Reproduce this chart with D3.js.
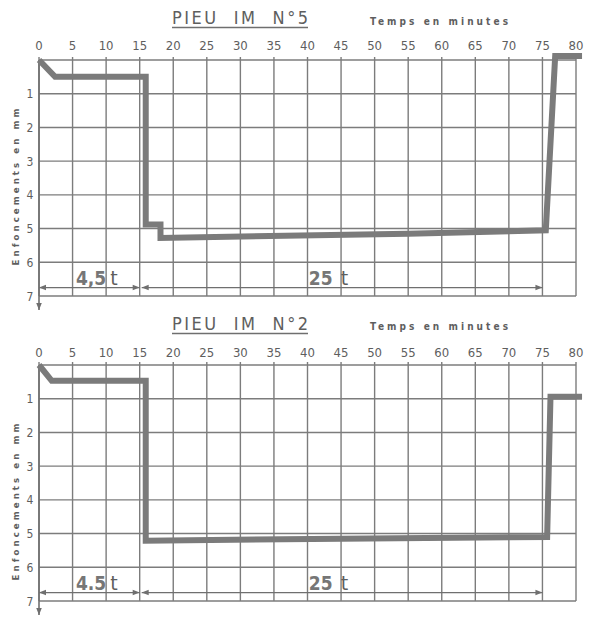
<!DOCTYPE html>
<html><head><meta charset="utf-8">
<script src="https://cdn.jsdelivr.net/npm/d3@7"></script>
<style>
html,body{margin:0;padding:0;background:#fff;}
svg{display:block;}
text{font-family:"DejaVu Sans Condensed","Liberation Sans Narrow","DejaVu Sans",sans-serif;fill:#5e5e5e;}
</style></head>
<body>
<svg id="chart" width="594" height="620"></svg>
<script>
// ---- data ----
const minuteTicks = [0,5,10,15,20,25,30,35,40,45,50,55,60,65,70,75,80];
const mmTicks = [1,2,3,4,5,6,7];
const gridMm = [0,1,2,3,4,5,6,7];

const pile5Time  = [0, 2.4, 15.9, 15.9, 18.1, 18.1, 55, 75.5, 76.9, 80.9];
const pile5Depth = [0, 0.50, 0.50, 4.88, 4.88, 5.28, 5.15, 5.05, -0.12, -0.12];

const pile2Time  = [0, 1.9, 15.9, 15.9, 45, 75.7, 76.2, 80.9];
const pile2Depth = [0, 0.47, 0.47, 5.21, 5.15, 5.10, 0.94, 0.94];

const spanStart = [0, 15];
const spanEnd   = [15, 75];
const spanLabel5 = ["4,5", "25"];
const spanLabel2 = ["4.5", "25"];
const spanDepth = 6.75;

const titles = ["PIEU  IM  N°5", "PIEU  IM  N°2"];
const xTitle = "Temps en minutes";
const yTitle = "Enfoncements en mm";

// ---- drawing ----
const svg = d3.select("#chart");
const ink = "#6f6f6f";
const gridCol = "#7c7c7c";

const defs = svg.append("defs");
defs.append("marker").attr("id","ah").attr("viewBox","0 0 10 10")
  .attr("refX",10).attr("refY",5).attr("markerWidth",9).attr("markerHeight",7)
  .attr("markerUnits","userSpaceOnUse").attr("orient","auto-start-reverse")
  .append("path").attr("d","M0,1 L10,5 L0,9 Z").attr("fill",ink);

const x = d3.scaleLinear().domain([0,80]).range([39,576]);

const panels = [
  {top:60, time:pile5Time, depth:pile5Depth, title:titles[0], labels:spanLabel5, titleY:24, tempsY:25, tickY:50, yTitleC:187},
  {top:365, time:pile2Time, depth:pile2Depth, title:titles[1], labels:spanLabel2, titleY:330, tempsY:330, tickY:357, yTitleC:502}
];

panels.forEach(p => {
  const y = d3.scaleLinear().domain([0,7]).range([p.top, p.top+236]);
  const g = svg.append("g");

  // vertical grid
  g.selectAll(".vg").data(minuteTicks).join("line")
    .attr("x1",d=>x(d)).attr("x2",d=>x(d))
    .attr("y1",y(0)-3).attr("y2",y(7))
    .attr("stroke",gridCol).attr("stroke-width",1.4);
  // horizontal grid
  g.selectAll(".hg").data(gridMm).join("line")
    .attr("x1",x(0)).attr("x2",x(80))
    .attr("y1",d=>y(d)).attr("y2",d=>y(d))
    .attr("stroke",gridCol).attr("stroke-width",1.4);

  // left axis with downward arrow
  g.append("line").attr("x1",x(0)).attr("x2",x(0))
    .attr("y1",y(0)).attr("y2",y(7)+14)
    .attr("stroke",ink).attr("stroke-width",1.6)
    .attr("marker-end","url(#ah)");

  // x tick labels (top)
  g.selectAll(".xt").data(minuteTicks).join("text")
    .attr("x",d=>x(d)).attr("y",p.tickY)
    .attr("text-anchor","middle").attr("font-size",13)
    .attr("font-family","Liberation Sans Narrow")
    .text(d=>d);

  // y tick labels
  g.selectAll(".yt").data(mmTicks).join("text")
    .attr("x",30).attr("y",d=>y(d)+4.5)
    .attr("text-anchor","middle").attr("font-size",12)
    .attr("font-family","Liberation Sans Narrow")
    .text(d=>d);

  // y title
  g.append("text")
    .attr("transform",`translate(19,${p.yTitleC}) rotate(-90)`)
    .attr("text-anchor","middle").attr("font-size",9.5).attr("font-weight","bold")
    .attr("textLength",157).attr("lengthAdjust","spacing")
    .text(yTitle);

  // title
  g.append("text").attr("x",172).attr("y",p.titleY)
    .attr("font-size",18).attr("textLength",136).attr("lengthAdjust","spacing")
    .attr("font-family","Liberation Sans Narrow")
    .style("white-space","pre")
    .text(p.title);
  g.append("line").attr("x1",172).attr("x2",308)
    .attr("y1",p.titleY+3.5).attr("y2",p.titleY+3.5)
    .attr("stroke",ink).attr("stroke-width",1.4);

  // "Temps en minutes"
  g.append("text").attr("x",370).attr("y",p.tempsY)
    .attr("font-size",10).attr("font-weight","bold")
    .attr("font-family","Liberation Sans Narrow")
    .attr("textLength",138).attr("lengthAdjust","spacing")
    .text(xTitle);

  // span arrows
  spanStart.forEach((s,i) => {
    g.append("line")
      .attr("x1",x(s)+(i===1?2:0)).attr("x2",x(spanEnd[i]))
      .attr("y1",y(spanDepth)).attr("y2",y(spanDepth))
      .attr("stroke",ink).attr("stroke-width",1.3)
      .attr("marker-start","url(#ah)").attr("marker-end","url(#ah)");
  });
  // span labels
  const lab1 = g.append("text").attr("x",x(5.5)).attr("y",y(6.5)+6).attr("font-size",19);
  lab1.append("tspan").attr("font-weight","bold").style("fill","#767676").text(p.labels[0]);
  lab1.append("tspan").attr("dx",4).attr("font-weight","normal").attr("font-family","DejaVu Sans").text("t");
  const lab2 = g.append("text").attr("x",x(40.2)).attr("y",y(6.5)+6).attr("font-size",19);
  lab2.append("tspan").attr("font-weight","bold").style("fill","#767676").text(p.labels[1]);
  lab2.append("tspan").attr("dx",8).attr("font-weight","normal").attr("font-family","DejaVu Sans").text("t");

  // data line
  const pts = p.time.map((t,i)=>[t,p.depth[i]]);
  g.append("path").datum(pts)
    .attr("d",d3.line().x(d=>x(d[0])).y(d=>y(d[1])))
    .attr("fill","none").attr("stroke","#7b7b7b").attr("stroke-width",6)
    .attr("stroke-linejoin","miter");
});
</script>
</body></html>
